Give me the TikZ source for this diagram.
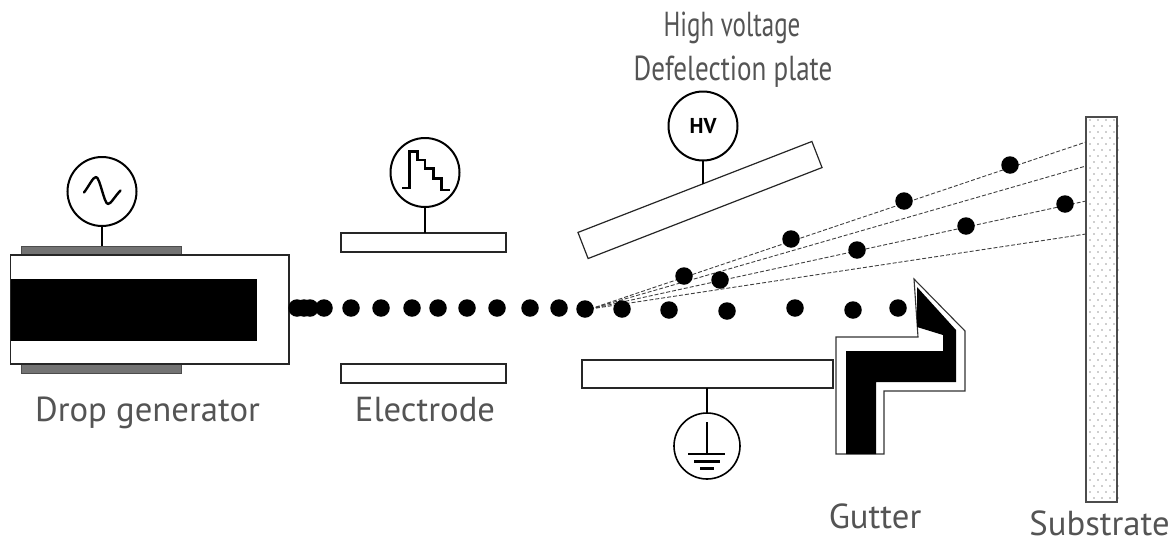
\documentclass[tikz,border=0pt]{standalone}
\usepackage{fontspec}
\setmainfont{PT Sans}
\usetikzlibrary{calc}
\definecolor{lab}{gray}{0.33}
\tikzset{
  meter/.style={circle,draw=black,line width=2pt,fill=white,minimum size=69pt,inner sep=0pt,outer sep=0pt},
  plate/.style={rectangle,draw=black!85,line width=1.2pt,fill=white,inner sep=0pt,outer sep=0pt},
  grayplate/.style={rectangle,draw=black!70,line width=1pt,fill=black!55,inner sep=0pt,outer sep=0pt,minimum width=160pt,minimum height=9pt},
  stem/.style={line width=2pt,black},
  glyph/.style={line width=2.4pt,black},
  drop/.style={circle,fill=black,minimum size=17.5pt,inner sep=0pt,outer sep=0pt},
  ray/.style={black!75,line width=0.9pt,dash pattern=on 4pt off 2pt},
  lbl/.style={font=\fontsize{34.7}{40}\selectfont,text=lab,inner sep=0pt,anchor=base},
}
\begin{document}
\begin{tikzpicture}[x=1pt,y=-1pt]
\useasboundingbox (0,0) rectangle (1172,541);
% drop generator
\node[grayplate] (gentop) at (101,250.5) {};
\node[grayplate] (genbot) at (101,368.5) {};
\node[plate,minimum width=278.5pt,minimum height=109pt] (genbody) at (149.75,309.5) {};
\node[rectangle,fill=black,inner sep=0pt,minimum width=246pt,minimum height=62pt] (gencore) at (134,310) {};
\node[meter] (ac) at (102,191.5) {};
\draw[stem] (ac.south) -- (ac.south |- gentop.north);
\draw[glyph,line join=round,line cap=round] (84,192.5) .. controls (89,186) and (93,177) .. (96,177) .. controls (100,177) and (104,204) .. (108,204) .. controls (111,204) and (115,196) .. (120.5,190.5);
% electrode
\node[plate,minimum width=165pt,minimum height=19pt] (eltop) at (423.5,242.5) {};
\node[plate,minimum width=165pt,minimum height=19pt] (elbot) at (423.5,373.5) {};
\node[meter] (pulse) at (425,172.5) {};
\draw[stem] (pulse.south) -- (pulse.south |- eltop.north);
\draw[glyph] (402,188) -- (409.5,188) -- (409.5,151.5) -- (417.5,151.5) -- (417.5,160) -- (425,160) -- (425,168.5) -- (433.5,168.5) -- (433.5,178.5) -- (441.5,178.5) -- (441.5,190) -- (450,190);
% deflection plates
\node[plate,rotate=21.25,minimum width=251pt,minimum height=28pt] (hvplate) at (700,200) {};
\node[meter] (hv) at (703,126) {\fontsize{21.5}{21.5}\selectfont\bfseries HV};
\coordinate (hvfoot) at (703,184);
\draw[stem] (hv.south) -- (hvfoot);
\node[plate,minimum width=251pt,minimum height=28pt] (gndplate) at (707.5,374) {};
\node[meter,minimum size=66pt,line width=1.6pt] (gnd) at (707,446) {};
\draw[stem] (gndplate.south -| gnd.north) -- (gnd.north);
\draw[glyph] (707,422) -- (707,454);
\draw[line width=2.6pt] (688,454) -- (725,454) (694,461.5) -- (720,461.5) (700,468.5) -- (714,468.5);
% gutter
\path[draw=black!80,line width=1.1pt,fill=white] (914,279) -- (965,331) -- (965,391) -- (884,391) -- (884,454) -- (836,454) -- (836,337) -- (918,337) -- cycle;
\fill[black] (917,287) -- (956,330) -- (956,382) -- (876,382) -- (876,454) -- (846,454) -- (846,351) -- (943,351) -- (943,335) -- (917,327) -- cycle;
% substrate
\node[plate,draw=black!70,minimum width=31pt,minimum height=385pt] (sub) at (1101.5,309.5) {};
\foreach \row in {0,...,63}{
  \pgfmathsetmacro{\yy}{120+\row*6}
  \pgfmathsetmacro{\off}{mod(\row,2)*4}
  \foreach \col in {0,1,2,3}{
    \fill[black!80] ({1090+\off+\col*8},\yy) circle (0.7pt);
  }
}
% trajectories
\coordinate (src) at (590,309);
\coordinate (hitA) at (1086,142);
\coordinate (hitB) at (1086,166);
\coordinate (hitC) at (1086,201);
\coordinate (hitD) at (1086,234);
\draw[ray] (src) -- (hitA);
\draw[ray] (src) -- (hitB);
\draw[ray] (src) -- (hitC);
\draw[ray] (src) -- (hitD);
% drops
\foreach \n/\x/\y in {a/297/308,b/304/308,c/310/308,d/324/308,e/351/308,f/381/308,g/412/308,h/438/308,i/467/308,j/497/308,k/530/308,l/559/308,m/585/309,o/622/309,p/669/310,q/727/311,r/795/308,s/853/310,t/898/308,u/684/276,v/720/280,w/791/239,x/857/250,y/904/201,z/966/226,aa/1010/165,ab/1065/204}
  \node[drop] (drop\n) at (\x,\y) {};
% labels
\node[lbl,xscale=0.72,transform shape] (t1) at (732,36) {High voltage};
\node[lbl,xscale=0.78,transform shape] (t2) at (733,80) {Defelection plate};
\node[lbl] (t3) at (147.5,421) {Drop generator};
\node[lbl] (t4) at (425,421) {Electrode};
\node[lbl] (t5) at (875,528) {Gutter};
\node[lbl] (t6) at (1099.5,535) {Substrate};
\end{tikzpicture}
\end{document}
